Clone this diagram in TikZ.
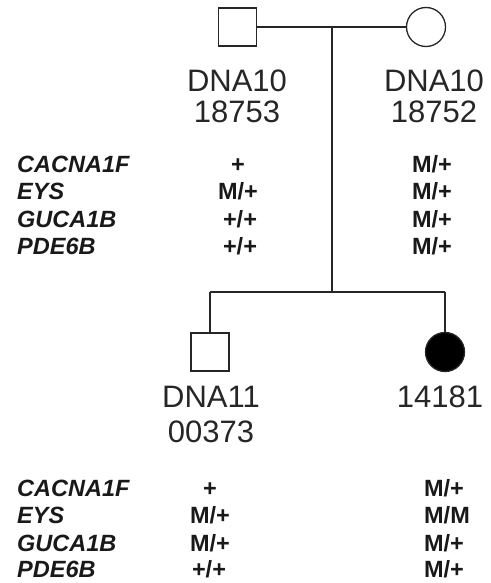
\documentclass[tikz,border=0pt]{standalone}
\usepackage{fontspec}
\setmainfont{Liberation Sans}
\usetikzlibrary{positioning}

\begin{document}
\begin{tikzpicture}[
    x=1pt, y=-1pt,
    male/.style={rectangle, draw=black!85, line width=1.3pt, minimum size=38pt, inner sep=0pt},
    female/.style={circle, draw=black!85, line width=1.3pt, minimum size=39pt, inner sep=0pt},
    link/.style={draw=black!85, line width=1.3pt},
    idtext/.style={font=\fontsize{31}{31}\selectfont, text=black!85, anchor=base, inner sep=0pt},
    gene/.style={font=\fontsize{23.5}{23.5}\selectfont\bfseries\itshape, text=black!90, anchor=base west, inner sep=0pt},
    geno/.style={font=\fontsize{23.5}{23.5}\selectfont\bfseries, text=black!90, anchor=base, inner sep=0pt}
]
\useasboundingbox (0,0) rectangle (490,583);

% Parents
\node[male] (father) at (237.5,27) {};
\node[female] (mother) at (426,27) {};
\coordinate (mate) at (332,27);
\coordinate (sibs) at (332,292);
\coordinate (sibl) at (210,292);
\coordinate (sibr) at (445,292);
\draw[link] (father.east) -- (mother.west);
\draw[link] (mate) -- (sibs);

\node[idtext] (fid1) at (237,92) {DNA10};
\node[idtext] (fid2) at (237,122) {18753};
\node[idtext] (mid1) at (434,92) {DNA10};
\node[idtext] (mid2) at (434,122) {18752};

% Children
\node[male] (son) at (210,352) {};
\node[female, fill=black] (daughter) at (445,352) {};
\draw[link] (sibl) -- (sibr);
\draw[link] (sibl) -- (son.north);
\draw[link] (sibr) -- (daughter.north);

\node[idtext] (sid1) at (211,407) {DNA11};
\node[idtext] (sid2) at (211,442) {00373};
\node[idtext] (did1) at (440,407) {14181};

% Genotypes parents
\node[gene] (pg1) at (17,172) {CACNA1F};
\node[gene] (pg2) at (17,199.5) {EYS};
\node[gene] (pg3) at (17,227) {GUCA1B};
\node[gene] (pg4) at (17,254) {PDE6B};
\node[geno] (fg1) at (238,172) {+};
\node[geno] (fg2) at (238,199.5) {M/+};
\node[geno] (fg3) at (240,227) {+/+};
\node[geno] (fg4) at (240,254) {+/+};
\node[geno] (mg1) at (432,172) {M/+};
\node[geno] (mg2) at (432,199.5) {M/+};
\node[geno] (mg3) at (432,227) {M/+};
\node[geno] (mg4) at (432,254) {M/+};

% Genotypes children
\node[gene] (cg1) at (17,496) {CACNA1F};
\node[gene] (cg2) at (17,523.5) {EYS};
\node[gene] (cg3) at (17,551) {GUCA1B};
\node[gene] (cg4) at (17,577) {PDE6B};
\node[geno] (sg1) at (210,496) {+};
\node[geno] (sg2) at (210,523.5) {M/+};
\node[geno] (sg3) at (210,551) {M/+};
\node[geno] (sg4) at (209,577) {+/+};
\node[geno] (dg1) at (444,496) {M/+};
\node[geno] (dg2) at (447,523.5) {M/M};
\node[geno] (dg3) at (444,551) {M/+};
\node[geno] (dg4) at (444,577) {M/+};

\end{tikzpicture}
\end{document}
